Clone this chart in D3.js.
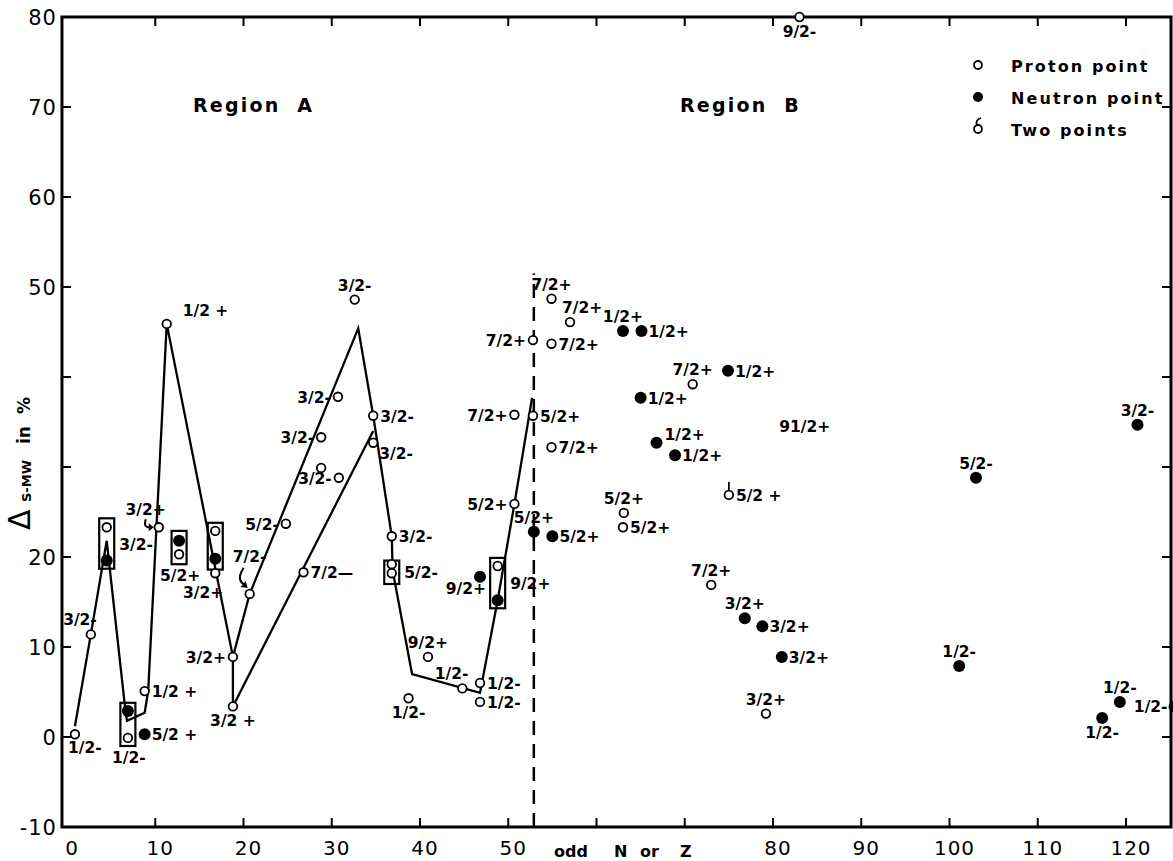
<!DOCTYPE html>
<html><head><meta charset="utf-8">
<script src="https://cdn.jsdelivr.net/npm/d3@7"></script>
<style>body{margin:0;background:#fff}svg{display:block}</style>
</head><body>
<svg id="c" width="1173" height="861"></svg>
<script>
// ---- data ----
const xTickValues = [10,20,30,40,50,60,70,80,90,100,110,120];
const xTickLabels = [0,10,20,30,40,50,80,90,100,110,120];
const yTickValues = [0,10,20,30,40,50,60,70];
const yTickLabels = [-10,0,10,20,50,60,70,80];

// proton points: [odd N or Z, Delta %, spin label]
const protons = [
  [0.9,0.3,"1/2-"],[2.7,11.4,"3/2-"],[8.8,5.1,"1/2 +"],[10.4,23.3,"3/2+"],
  [11.3,45.9,"1/2 +"],[18.8,8.9,"3/2+"],[18.8,3.4,"3/2 +"],[20.7,15.9,"7/2-"],
  [24.8,23.7,"5/2-"],[26.8,18.3,"7/2—"],[28.8,33.3,"3/2-"],[28.8,29.9,""],
  [30.7,37.8,"3/2-"],[30.8,28.8,"3/2-"],[32.6,48.6,"3/2-"],[34.7,35.7,"3/2-"],
  [34.7,32.7,"3/2-"],[36.8,22.3,"3/2-"],[38.7,4.3,"1/2-"],[40.9,8.9,"9/2+"],
  [44.8,5.4,"1/2-"],[46.8,6.0,"1/2-"],[46.8,3.9,"1/2-"],[50.7,35.8,"7/2+"],
  [50.7,25.9,"5/2+"],[52.8,44.1,"7/2+"],[52.8,35.7,"5/2+"],[54.9,48.7,"7/2+"],
  [57.0,46.1,"7/2+"],[54.9,43.7,"7/2+"],[54.9,32.2,"7/2+"],[70.9,39.2,"7/2+"],
  [63.1,24.9,"5/2+"],[63.0,23.3,"5/2+"],[73.0,16.9,"7/2+"],[79.2,2.6,"3/2+"],
  [83.0,80,"9/2-"],
  // inside boxes
  [4.5,23.3,""],[6.9,-0.1,""],[12.7,20.3,""],[16.8,22.9,""],[16.8,18.2,""],
  [36.8,19.2,""],[36.8,18.2,""],[48.8,19.0,""]
];
const protonLabelPos = ["br","al","r","al2","ar2","l","b","a2","l","r","l","",
  "l","l","a","r","rb","r","b","a","al","r","r","l","l","l","r","a","ar","r","r","a",
  "a","r","a","a","b","","","","","","","",""];

// neutron points
const neutrons = [
  [8.8,0.3,"5/2 +"],[46.8,17.8,"9/2+"],[52.9,22.8,"5/2+"],[55.0,22.3,"5/2+"],
  [63.0,45.1,"1/2+"],[65.1,45.1,"1/2+"],[65.0,37.7,"1/2+"],[66.8,32.7,"1/2+"],
  [68.9,31.3,"1/2+"],[74.9,40.7,"1/2+"],[76.8,13.2,"3/2+"],[78.8,12.3,"3/2+"],
  [81.0,8.9,"3/2+"],[101.1,7.9,"1/2-"],[103.0,28.8,"5/2-"],[121.3,34.7,"3/2-"],
  [119.3,3.9,"1/2-"],[117.3,2.1,"1/2-"],[125.5,3.4,"1/2-"],
  // inside boxes
  [4.5,19.6,""],[6.9,2.9,""],[12.7,21.8,""],[16.8,19.8,""],[48.8,15.2,""]
];
const neutronLabelPos = ["r","bl","a","r","a","r","r","ra","r","r","a","r","r",
  "a","a","a","a","b","l","","","","",""];

// two coinciding points
const twoPoints = [[75.0,26.9,"5/2 +"]];
const twoPointsLabelPos = ["r"];

// boxed groups: [x, top, bottom, label]
const boxes = [
  [4.5,24.3,18.7,"3/2-"],[6.9,3.8,-1.0,"1/2-"],[12.7,22.9,19.2,"5/2+"],
  [16.8,23.8,18.6,"3/2+"],[36.8,19.6,17.0,"5/2-"],[48.8,19.9,14.3,"9/2+"]
];
const boxLabelPos = ["r","b","b","bl","r","r"];

// free annotation
const notes = [[80.7,34.6,"91/2+"]];

// connecting lines in Region A
const lineA1 = [[0.9,1.2],[2.7,11.4],[4.5,21.8],[6.6,3.1],[6.8,1.8],[8.8,2.7],[9.2,5.1],[11.3,45.9],[18.8,8.9],[18.8,3.4]];
const lineA2 = [[18.8,8.9],[20.7,15.9],[33.0,45.4],[34.7,35.7],[36.8,22.3],[36.9,18.5],[39.1,7.0],[46.8,4.9],[48.8,15.2],[50.7,25.9],[52.7,37.7]];
const lineA3 = [[18.8,3.4],[34.7,34.0]];
const regionBoundary = 52.9;

// ---- drawing ----
const svg = d3.select("#c");
const x = d3.scaleLinear().domain([0,120]).range([67,1126]);
const y = d3.scaleLinear().domain([-10,80]).range([827,17]);
const X0 = x(-0.57), X1 = x(125.1), Y0 = y(-10), Y1 = y(80);
const LF = "'DejaVu Sans', sans-serif";

const g = svg.append("g");
// frame
g.append("rect").attr("x",X0).attr("y",Y1).attr("width",X1-X0).attr("height",Y0-Y1)
  .attr("fill","none").attr("stroke","#000").attr("stroke-width",3);

// ticks
const tk = 9;
xTickValues.forEach(v=>{
  g.append("line").attr("x1",x(v)).attr("x2",x(v)).attr("y1",Y0).attr("y2",Y0-tk).attr("stroke","#000").attr("stroke-width",2);
  g.append("line").attr("x1",x(v)).attr("x2",x(v)).attr("y1",Y1).attr("y2",Y1+tk).attr("stroke","#000").attr("stroke-width",2);
});
yTickValues.forEach(v=>{
  g.append("line").attr("x1",X0).attr("x2",X0+tk).attr("y1",y(v)).attr("y2",y(v)).attr("stroke","#000").attr("stroke-width",2);
  g.append("line").attr("x1",X1).attr("x2",X1-tk).attr("y1",y(v)).attr("y2",y(v)).attr("stroke","#000").attr("stroke-width",2);
});
g.selectAll("text.xl").data(xTickLabels).enter().append("text")
  .attr("x",d=>x(d)+5).attr("y",855).attr("text-anchor","middle")
  .attr("font-family",LF).attr("font-size",20).attr("letter-spacing",1).text(d=>d);
g.selectAll("text.yl").data(yTickLabels).enter().append("text")
  .attr("x",X0-5).attr("y",d=>y(d)+8).attr("text-anchor","end")
  .attr("font-family",LF).attr("font-size",21).attr("letter-spacing",1).text(d=>d);

// axis titles
const xt = g.append("text").attr("y",857).attr("font-family",LF).attr("font-weight","bold").attr("font-size",16);
[["odd",554],["N",614],["or",640],["Z",680]].forEach(w=>xt.append("tspan").attr("x",w[1]).text(w[0]));
const yt = g.append("text").attr("transform","translate(30,530) rotate(-90)")
  .attr("font-family",LF).attr("font-weight","bold");
yt.append("tspan").attr("x",0).attr("font-size",30).attr("font-weight","normal").text("Δ");
yt.append("tspan").attr("x",28).attr("dy",1).attr("font-size",13).text("S-MW");
yt.append("tspan").attr("x",86).attr("dy",-1).attr("font-size",17).text("in");
yt.append("tspan").attr("x",116).attr("font-size",17).text("%");

// region labels
g.append("text").attr("x",193).attr("y",112).attr("font-family",LF).attr("font-weight","bold")
  .attr("font-size",19).attr("letter-spacing",2.2).attr("word-spacing",8).text("Region A");
g.append("text").attr("x",680).attr("y",112).attr("font-family",LF).attr("font-weight","bold")
  .attr("font-size",19).attr("letter-spacing",2.2).attr("word-spacing",8).text("Region B");

// dashed boundary
g.append("line").attr("x1",x(regionBoundary)).attr("x2",x(regionBoundary))
  .attr("y1",Y0).attr("y2",y(51.5)).attr("stroke","#000").attr("stroke-width",2.5)
  .attr("stroke-dasharray","14,9");

// lines
const lg = d3.line().x(d=>x(d[0])).y(d=>y(d[1]));
[lineA1,lineA2,lineA3].forEach(L=>{
  g.append("path").attr("d",lg(L)).attr("fill","none").attr("stroke","#000")
    .attr("stroke-width",2.3).attr("stroke-linejoin","miter");
});

// boxes
const bw = 7.5;
boxes.forEach(b=>{
  g.append("rect").attr("x",x(b[0])-bw).attr("y",y(b[1])).attr("width",2*bw)
    .attr("height",y(b[2])-y(b[1])).attr("fill","none").attr("stroke","#000").attr("stroke-width",2.2);
});

// label placement
function place(code){
  switch(code){
    case "r": return [7,6,"start"];
    case "l": return [-7,6,"end"];
    case "a": return [0,-9,"middle"];
    case "b": return [0,20,"middle"];
    case "al": return [6,-9,"end"];
    case "al2": return [7,-12,"end"];
    case "ar": return [-8,-9,"start"];
    case "ar2": return [16,-8,"start"];
    case "br": return [-7,19,"start"];
    case "bl": return [6,17,"end"];
    case "rb": return [6,16,"start"];
    case "ra": return [8,-3,"start"];
    case "a2": return [0,-32,"middle"];
  }
  return [0,0,"start"];
}
function label(px,py,txt,code){
  if(!txt) return;
  const p = place(code);
  g.append("text").attr("x",px+p[0]).attr("y",py+p[1]).attr("text-anchor",p[2])
    .attr("font-family",LF).attr("font-weight","bold").attr("font-size",15.5).text(txt);
}

// box labels
boxes.forEach((b,i)=>{
  const cx = x(b[0]), top=y(b[1]), bot=y(b[2]), cy=(top+bot)/2;
  const t = b[3], c = boxLabelPos[i];
  let tx, ty, an;
  if(c==="r"){tx=cx+bw+5; ty=cy+6; an="start";}
  else if(c==="b"){tx=cx+1; ty=bot+17; an="middle";}
  else {tx=cx+8; ty=bot+28; an="end";}
  g.append("text").attr("x",tx).attr("y",ty).attr("text-anchor",an)
    .attr("font-family",LF).attr("font-weight","bold").attr("font-size",15.5).text(t);
});

// points
g.selectAll("circle.p").data(protons).enter().append("circle")
  .attr("cx",d=>x(d[0])).attr("cy",d=>y(d[1])).attr("r",4.3)
  .attr("fill","#fff").attr("stroke","#000").attr("stroke-width",1.8);
g.selectAll("circle.n").data(neutrons).enter().append("circle")
  .attr("cx",d=>x(d[0])).attr("cy",d=>y(d[1])).attr("r",6)
  .attr("fill","#000");
twoPoints.forEach(d=>{
  g.append("line").attr("x1",x(d[0])).attr("x2",x(d[0])).attr("y1",y(d[1])-4).attr("y2",y(d[1])-13)
    .attr("stroke","#000").attr("stroke-width",1.8);
  g.append("circle").attr("cx",x(d[0])).attr("cy",y(d[1])).attr("r",4.3)
    .attr("fill","#fff").attr("stroke","#000").attr("stroke-width",1.8);
});
protons.forEach((d,i)=>label(x(d[0]),y(d[1]),d[2],protonLabelPos[i]));
neutrons.forEach((d,i)=>label(x(d[0]),y(d[1]),d[2],neutronLabelPos[i]));
twoPoints.forEach((d,i)=>label(x(d[0]),y(d[1]),d[2],twoPointsLabelPos[i]));
notes.forEach(d=>{
  g.append("text").attr("x",x(d[0])).attr("y",y(d[1])+6).attr("font-family",LF)
    .attr("font-weight","bold").attr("font-size",15.5).text(d[2]);
});

// curved arrows
function arrow(path,tip,dir){
  g.append("path").attr("d",path).attr("fill","none").attr("stroke","#000").attr("stroke-width",2);
  g.append("path").attr("d",d3.line()([[tip[0],tip[1]],[tip[0]+dir[0][0],tip[1]+dir[0][1]],[tip[0]+dir[1][0],tip[1]+dir[1][1]]])+"Z").attr("fill","#000");
}
{
  const px=x(protons[3][0]), py=y(protons[3][1]);
  arrow(`M${px-13},${py-8} Q${px-16},${py+1} ${px-8},${py}`,[px-5,py],[[-5,-4],[-5,4]]);
  const qx=x(protons[7][0]), qy=y(protons[7][1]);
  arrow(`M${qx-6},${qy-26} Q${qx-14},${qy-14} ${qx-5},${qy-9}`,[qx-2,qy-6],[[-7,-1],[-2,-7]]);
}

// legend
const lx = 978, ly = [65,97,129], ltxt = ["Proton point","Neutron point","Two points"];
g.append("circle").attr("cx",lx).attr("cy",ly[0]).attr("r",4).attr("fill","#fff").attr("stroke","#000").attr("stroke-width",1.8);
g.append("circle").attr("cx",lx).attr("cy",ly[1]).attr("r",5).attr("fill","#000");
g.append("path").attr("d",`M${lx-1},${ly[2]-4} Q${lx-3},${ly[2]-9} ${lx+3},${ly[2]-11}`).attr("fill","none").attr("stroke","#000").attr("stroke-width",1.8);
g.append("circle").attr("cx",lx).attr("cy",ly[2]).attr("r",4).attr("fill","#fff").attr("stroke","#000").attr("stroke-width",1.8);
ltxt.forEach((t,i)=>{
  g.append("text").attr("x",1011).attr("y",ly[i]+7).attr("font-family",LF).attr("font-weight","bold")
    .attr("font-size",16).attr("letter-spacing",2.1).text(t);
});
</script>
</body></html>
